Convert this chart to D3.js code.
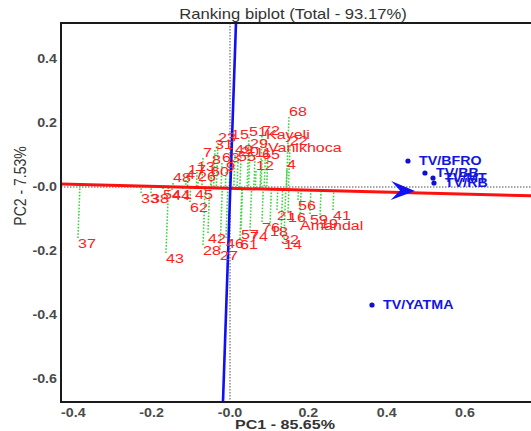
<!DOCTYPE html>
<html><head><meta charset="utf-8">
<script src="https://cdn.jsdelivr.net/npm/d3@7"></script>
<style>body{margin:0;background:#fff} svg{display:block}</style>
</head><body><svg id="c" width="531" height="431"></svg>
<script>
// ---- data ----
const genotypes = ["68","51","72","Kayeli","22","Vanikhoca","12","4","20","29","31","7","8","63","13","17","48","26","47","15","55","9","60","65","11","23","49",
  "33","38","54","44","1","45","62","37","43","28","27","42","46","61","57","74","76","18","21","32","14","16","56","Amandal","59","19","41"];
const genoPC1 = [0.1506,0.0485,0.0817,0.0919,0.1532,0.0970,0.0664,0.1455,0.0281,0.0511,-0.0383,-0.0689,-0.0460,-0.0204,-0.0842,-0.1072,-0.1455,-0.0817,-0.1123,0.0026,0.0204,-0.0102,-0.0485,0.0817,0.0638,-0.0306,0.0128,
  -0.2272,-0.2017,-0.1710,-0.1481,-0.1200,-0.0894,-0.1021,-0.3881,-0.1634,-0.0689,-0.0255,-0.0562,-0.0102,0.0255,0.0281,0.0511,0.0817,0.1021,0.1200,0.1302,0.1379,0.1481,0.1736,0.1787,0.2042,0.2298,0.2630];
const genoPC2 = [0.2188,0.1563,0.1594,0.1469,0.1281,0.1063,0.0500,0.0531,0.0938,0.1188,0.1156,0.0906,0.0688,0.0750,0.0469,0.0375,0.0125,0.0156,0.0219,0.1469,0.0781,0.0469,0.0313,0.0844,0.0906,0.1375,0.1000,
  -0.0188,-0.0188,-0.0063,-0.0094,-0.0063,-0.0063,-0.0469,-0.1594,-0.2063,-0.1813,-0.1969,-0.1438,-0.1594,-0.1625,-0.1313,-0.1375,-0.1094,-0.1219,-0.0719,-0.1469,-0.1625,-0.0781,-0.0406,-0.1031,-0.0844,-0.0969,-0.0719];
const envNames = ["TV/BFRO","TV/BB","TV/MT","TV/RB","TV/YATMA"];
const envPC1 = [0.4544,0.4978,0.5183,0.5208,0.3625];
const envPC2 = [0.0813,0.0438,0.0281,0.0125,-0.3688];
const aecAbscissaX = [-0.4314,0.7914];
const aecAbscissaY = [0.0094,-0.0281];
const aecOrdinateX = [0.0153,-0.0179];
const aecOrdinateY = [0.5125,-0.6719];
const avgEnv = [0.4723,-0.0125];
const xTicks = [-0.4,-0.2,0,0.2,0.4,0.6];
const xTickLabels = ["-0.4","-0.2","-0.0","0.2","0.4","0.6"];
const yTicks = [0.4,0.2,0,-0.2,-0.4,-0.6];
const yTickLabels = ["0.4","0.2","-0.0","-0.2","-0.4","-0.6"];
const title = "Ranking biplot (Total - 93.17%)";
const xTitle = "PC1 - 85.65%";
const yTitle = "PC2 - 7.53%";

// ---- layout ----
const L = 61, T = 23, B = 402, R = 545;
const SX = 1.19; // horizontal stretch of the original picture
const x = d3.scaleLinear().domain([-0.4,0.6]).range([73.3,465]);
const y = d3.scaleLinear().domain([0.4,-0.6]).range([59,379]);
const svg = d3.select("#c");
const FONT = "'Liberation Sans', Arial, sans-serif";

svg.append("defs").append("clipPath").attr("id","clip")
  .append("rect").attr("x",L).attr("y",T).attr("width",R-L).attr("height",B-T);
const g = svg.append("g").attr("clip-path","url(#clip)");

// gray dotted origin lines
g.append("line").attr("x1",x(0)).attr("x2",x(0)).attr("y1",T).attr("y2",B)
  .attr("stroke","#8a8a8a").attr("stroke-width",1.5).attr("stroke-dasharray","1.5,1.5");
g.append("line").attr("x1",L).attr("x2",R).attr("y1",y(0)).attr("y2",y(0))
  .attr("stroke","#8a8a8a").attr("stroke-width",1.5).attr("stroke-dasharray","1.5,1.5");

// projections onto AEC abscissa
const dx = aecAbscissaX[1]-aecAbscissaX[0], dy = aecAbscissaY[1]-aecAbscissaY[0];
const dd = dx*dx+dy*dy;
const geno = genotypes.map((n,i)=>({n, a:genoPC1[i], b:genoPC2[i]}));
geno.forEach(p=>{
  const t = ((p.a-aecAbscissaX[0])*dx + (p.b-aecAbscissaY[0])*dy)/dd;
  p.fa = aecAbscissaX[0]+t*dx; p.fb = aecAbscissaY[0]+t*dy;
});
g.selectAll("line.proj").data(geno).join("line").attr("class","proj")
  .attr("x1",d=>x(d.a)).attr("y1",d=>y(d.b)).attr("x2",d=>x(d.fa)).attr("y2",d=>y(d.fb))
  .attr("stroke","#3fd23f").attr("stroke-width",1.6).attr("stroke-dasharray","1.6,1.6");

// AEC abscissa (red)
g.append("line").attr("x1",x(aecAbscissaX[0])).attr("y1",y(aecAbscissaY[0]))
  .attr("x2",x(aecAbscissaX[1])).attr("y2",y(aecAbscissaY[1]))
  .attr("stroke","#ff1010").attr("stroke-width",3);
// AEC ordinate (blue)
g.append("line").attr("x1",x(aecOrdinateX[0])).attr("y1",y(aecOrdinateY[0]))
  .attr("x2",x(aecOrdinateX[1])).attr("y2",y(aecOrdinateY[1]))
  .attr("stroke","#1010f0").attr("stroke-width",2.6);
// arrow at average environment
const ang = Math.atan2(y(aecAbscissaY[1])-y(aecAbscissaY[0]), x(aecAbscissaX[1])-x(aecAbscissaX[0]))*180/Math.PI;
g.append("path").attr("d","M0,0 L-24,-9.5 L-15,0 L-24,9.5 Z")
  .attr("transform",`translate(${x(avgEnv[0])},${y(avgEnv[1])}) rotate(${ang})`)
  .attr("fill","#1010f0");

// genotype labels
g.selectAll("text.geno").data(geno).join("text").attr("class","geno")
  .attr("transform",d=>`translate(${x(d.a)},${y(d.b)}) scale(${SX},1)`)
  .attr("dy",d=> d.b>=d.fb ? "-1" : "0.72em")
  .attr("font-family",FONT).attr("font-size",13.5).attr("fill","#ff2020")
  .text(d=>d.n);

// environments
const env = envNames.map((n,i)=>({n,a:envPC1[i],b:envPC2[i]}));
g.selectAll("circle.env").data(env).join("circle").attr("class","env")
  .attr("cx",d=>x(d.a)).attr("cy",d=>y(d.b)).attr("r",2.6).attr("fill","#1010d0");
g.selectAll("text.env").data(env).join("text").attr("class","env")
  .attr("transform",d=>`translate(${x(d.a)+11},${y(d.b)}) scale(${SX},1)`)
  .attr("dy","0.36em").attr("font-family",FONT).attr("font-size",12).attr("font-weight","bold")
  .attr("fill","#1515e0").text(d=>d.n);

// frame
svg.append("path").attr("d",`M${R},${T} H${L} V${B} H${R}`)
  .attr("fill","none").attr("stroke","#1a1a1a").attr("stroke-width",2);

// tick labels
svg.selectAll("text.xt").data(xTicks).join("text").attr("class","xt")
  .attr("transform",(d)=>`translate(${x(d)},417) scale(${SX},1)`)
  .attr("text-anchor","middle").attr("font-family",FONT).attr("font-size",12).attr("font-weight","bold")
  .attr("fill","#4a4a4a").text((d,i)=>xTickLabels[i]);
svg.selectAll("text.yt").data(yTicks).join("text").attr("class","yt")
  .attr("transform",(d)=>`translate(57,${y(d)}) scale(${SX},1)`)
  .attr("dy","0.36em").attr("text-anchor","end").attr("font-family",FONT).attr("font-size",12).attr("font-weight","bold")
  .attr("fill","#4a4a4a").text((d,i)=>yTickLabels[i]);

// titles
svg.append("text").attr("transform",`translate(293,18.5) scale(${SX},1)`)
  .attr("text-anchor","middle").attr("font-family",FONT).attr("font-size",14).attr("fill","#333")
  .text(title);
svg.append("text").attr("transform",`translate(285,429) scale(${SX},1)`)
  .attr("text-anchor","middle").attr("font-family",FONT).attr("font-size",13.5).attr("font-weight","bold").attr("fill","#333")
  .text(xTitle);
svg.append("text").attr("transform",`translate(26,186) rotate(-90) scale(1,${SX})`)
  .attr("text-anchor","middle").attr("font-family",FONT).attr("font-size",14).attr("fill","#333")
  .text(yTitle);
</script></body></html>
